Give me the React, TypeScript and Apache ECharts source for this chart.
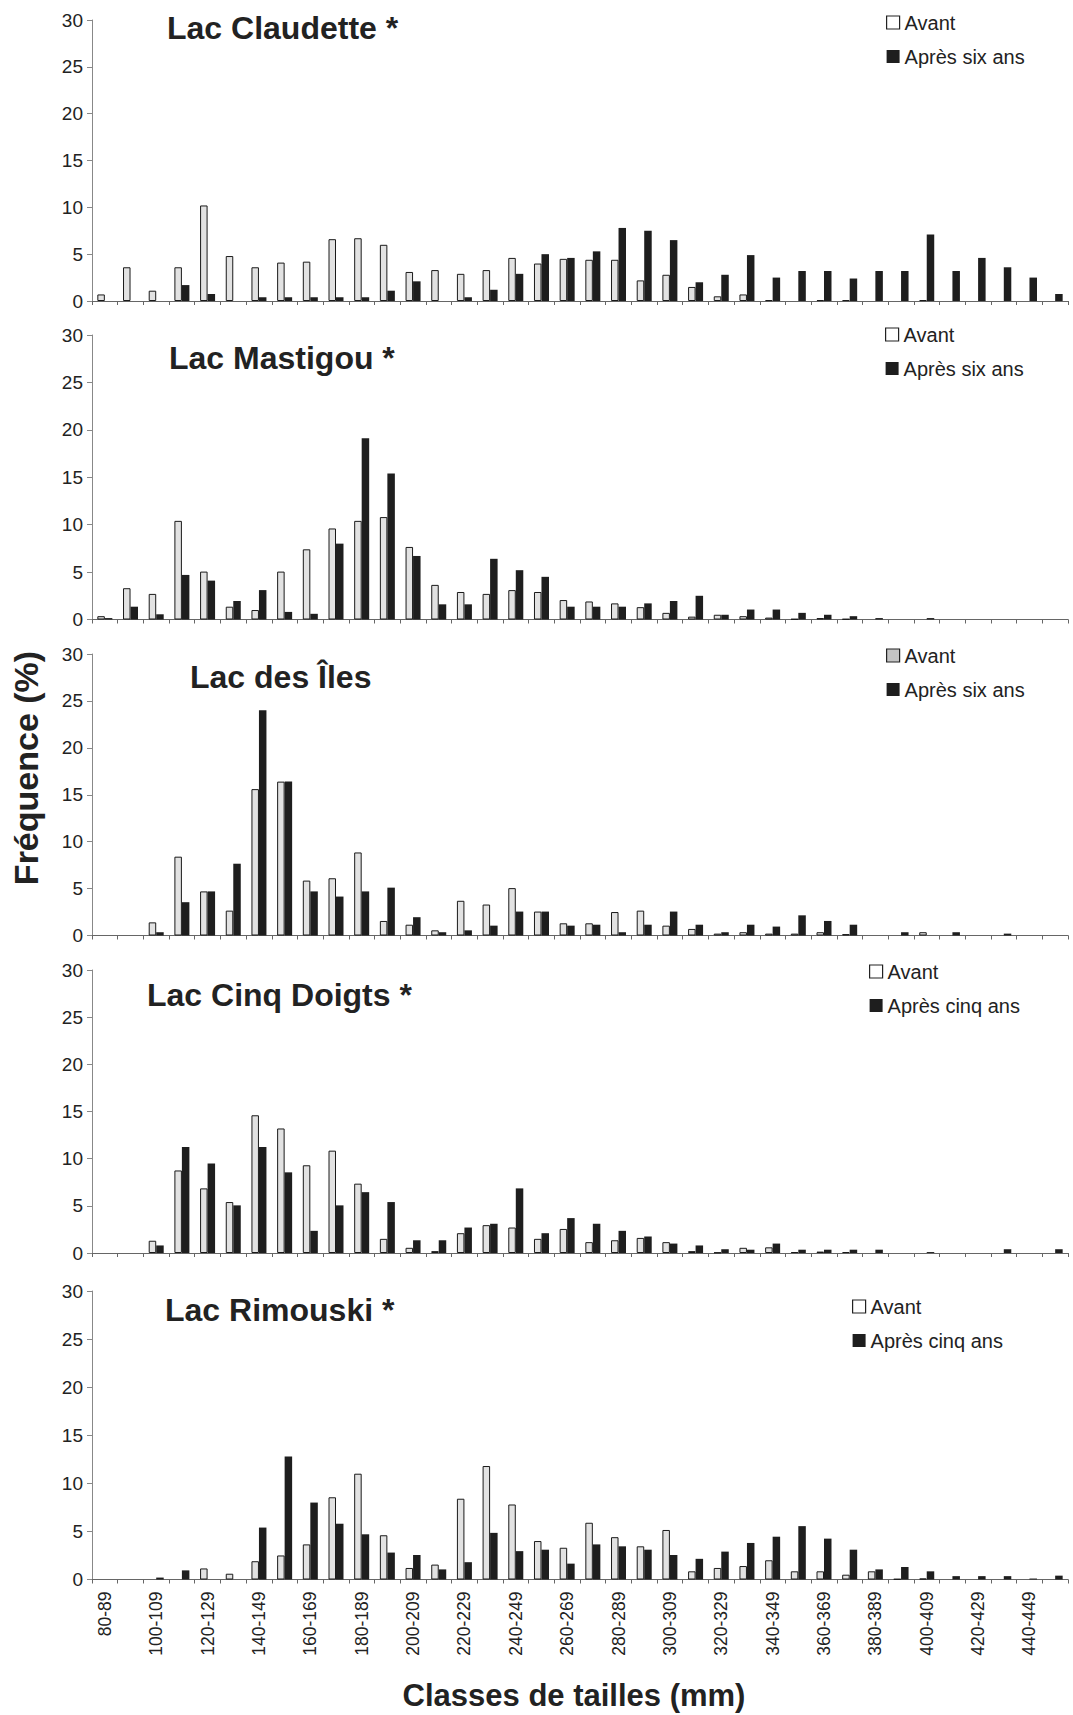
import React, { useEffect, useRef } from "react";
import * as echarts from "echarts";

const categories = [
  "80-89", "90-99", "100-109", "110-119", "120-129", "130-139", "140-149", "150-159",
  "160-169", "170-179", "180-189", "190-199", "200-209", "210-219", "220-229", "230-239",
  "240-249", "250-259", "260-269", "270-279", "280-289", "290-299", "300-309", "310-319",
  "320-329", "330-339", "340-349", "350-359", "360-369", "370-379", "380-389", "390-399",
  "400-409", "410-419", "420-429", "430-439", "440-449", "450-459",
];

const yTicks = [0, 5, 10, 15, 20, 25, 30];

const claudetteAvant = [0.7, 3.6, 1.1, 3.6, 10.2, 4.8, 3.6, 4.1, 4.2, 6.6, 6.7, 6.0, 3.1, 3.3, 2.9, 3.3, 4.6, 4.0, 4.5, 4.4, 4.4, 2.2, 2.8, 1.5, 0.5, 0.7, 0.1, 0, 0.1, 0.1, 0, 0, 0.1, 0, 0, 0, 0, 0];
const claudetteApres = [0, 0, 0, 1.7, 0.75, 0, 0.4, 0.4, 0.4, 0.4, 0.4, 1.1, 2.1, 0, 0.4, 1.2, 2.9, 5.0, 4.6, 5.3, 7.8, 7.5, 6.5, 2.0, 2.8, 4.9, 2.5, 3.2, 3.2, 2.4, 3.2, 3.2, 7.1, 3.2, 4.6, 3.6, 2.5, 0.75];

const mastigouAvant = [0.35, 3.3, 2.7, 10.4, 5.05, 1.35, 1.0, 5.05, 7.4, 9.6, 10.4, 10.8, 7.65, 3.65, 2.9, 2.7, 3.1, 2.9, 2.05, 1.9, 1.7, 1.3, 0.7, 0.3, 0.5, 0.35, 0.2, 0.05, 0.15, 0.05, 0, 0, 0, 0, 0, 0, 0, 0];
const mastigouApres = [0.15, 1.35, 0.55, 4.7, 4.1, 1.95, 3.1, 0.8, 0.6, 8.0, 19.1, 15.4, 6.7, 1.6, 1.6, 6.4, 5.2, 4.5, 1.35, 1.35, 1.35, 1.7, 1.95, 2.5, 0.5, 1.05, 1.05, 0.7, 0.5, 0.35, 0.15, 0, 0.15, 0, 0, 0, 0, 0];

const ilesAvant = [0, 0, 1.4, 8.4, 4.7, 2.65, 15.6, 16.4, 5.85, 6.1, 8.85, 1.55, 1.15, 0.55, 3.7, 3.3, 5.05, 2.55, 1.3, 1.3, 2.5, 2.65, 1.05, 0.7, 0.2, 0.35, 0.2, 0.2, 0.35, 0.15, 0, 0, 0.35, 0, 0, 0, 0, 0];
const ilesApres = [0, 0, 0.35, 3.55, 4.7, 7.65, 24.0, 16.4, 4.7, 4.15, 4.7, 5.1, 1.95, 0.35, 0.55, 1.05, 2.55, 2.55, 1.05, 1.15, 0.35, 1.15, 2.55, 1.15, 0.35, 1.15, 0.95, 2.15, 1.55, 1.15, 0, 0.35, 0, 0.35, 0, 0.2, 0, 0];

const cinqAvant = [0, 0, 1.3, 8.75, 6.85, 5.4, 14.6, 13.2, 9.3, 10.85, 7.35, 1.5, 0.55, 0.2, 2.1, 2.95, 2.7, 1.5, 2.55, 1.15, 1.35, 1.6, 1.15, 0.2, 0.05, 0.55, 0.6, 0.1, 0.15, 0.1, 0, 0, 0, 0, 0, 0, 0, 0];
const cinqApres = [0, 0, 0.8, 11.25, 9.5, 5.05, 11.25, 8.55, 2.35, 5.05, 6.45, 5.4, 1.35, 1.35, 2.7, 3.1, 6.85, 2.1, 3.7, 3.1, 2.35, 1.75, 1.0, 0.8, 0.4, 0.35, 1.0, 0.35, 0.35, 0.35, 0.35, 0, 0.1, 0, 0, 0.4, 0, 0.4];

const rimouskiAvant = [0, 0, 0, 0, 1.15, 0.6, 1.9, 2.5, 3.65, 8.55, 11.0, 4.6, 1.2, 1.55, 8.4, 11.8, 7.8, 4.0, 3.3, 5.9, 4.4, 3.45, 5.15, 0.85, 1.2, 1.4, 2.0, 0.85, 0.85, 0.5, 0.85, 0.05, 0.1, 0, 0, 0, 0, 0];
const rimouskiApres = [0, 0, 0.2, 0.95, 0, 0, 5.4, 12.8, 8.0, 5.8, 4.7, 2.8, 2.55, 1.05, 1.8, 4.85, 2.95, 3.1, 1.65, 3.65, 3.45, 3.1, 2.55, 2.15, 2.9, 3.8, 4.45, 5.55, 4.25, 3.1, 1.05, 1.3, 0.85, 0.35, 0.35, 0.35, 0.1, 0.4];

const panelTitles = ["Lac Claudette *", "Lac Mastigou *", "Lac des Îles", "Lac Cinq Doigts *", "Lac Rimouski *"];
const beforeLabel = "Avant";
const afterLabels = ["Après six ans", "Après six ans", "Après six ans", "Après cinq ans", "Après cinq ans"];
const yAxisTitle = "Fréquence (%)";
const xAxisTitle = "Classes de tailles (mm)";

const FONT = "'Liberation Sans', Arial, sans-serif";

export default function App() {
  const ref = useRef<HTMLDivElement>(null);

  useEffect(() => {
    if (!ref.current) return;
    const chart = echarts.init(ref.current, null, { renderer: "svg" });

    const befores = [claudetteAvant, mastigouAvant, ilesAvant, cinqAvant, rimouskiAvant];
    const afters = [claudetteApres, mastigouApres, ilesApres, cinqApres, rimouskiApres];
    const clean = (arr: number[]) => arr.map((v) => (v === 0 ? "-" : v));

    const grids = [
      { left: 92, top: 20, width: 976, height: 281 },
      { left: 92, top: 335, width: 976, height: 284.5 },
      { left: 92, top: 654, width: 976, height: 281.5 },
      { left: 92, top: 970, width: 976, height: 283 },
      { left: 92, top: 1291, width: 976, height: 288.5 },
    ];
    const titlePos = [
      [167, 27.5], [169, 357.5], [190, 677], [147, 995], [165, 1310],
    ];
    const legendPos = [
      [886, 12.5], [885, 324.5], [886, 645.5], [869, 961.5], [852, 1296.5],
    ];

    const xAxes = grids.map((_, i) => ({
      type: "category",
      gridIndex: i,
      data: categories,
      axisLine: { lineStyle: { color: "#666", width: 1 } },
      axisTick: { show: true, interval: 0, length: 4, lineStyle: { color: "#666" } },
      axisLabel: i === 4
        ? { show: true, rotate: 90, interval: 1, fontSize: 17.5, color: "#222", fontFamily: FONT, margin: 12 }
        : { show: false },
      splitLine: { show: false },
    }));

    const yAxes = grids.map((_, i) => ({
      type: "value",
      gridIndex: i,
      min: yTicks[0],
      max: yTicks[yTicks.length - 1],
      interval: 5,
      axisLine: { show: true, lineStyle: { color: "#888", width: 1 } },
      axisTick: { show: true, length: 5, lineStyle: { color: "#888" } },
      axisLabel: { fontSize: 19, color: "#222", fontFamily: FONT, margin: 9 },
      splitLine: { show: false },
    }));

    const series: any[] = [];
    grids.forEach((_, i) => {
      series.push({
        type: "bar",
        name: beforeLabel,
        xAxisIndex: i,
        yAxisIndex: i,
        data: clean(befores[i]),
        barWidth: 7.5,
        barGap: "0%",
        itemStyle: { color: "#e2e2e2", borderColor: "#1a1a1a", borderWidth: 1 },
      });
      series.push({
        type: "bar",
        name: afterLabels[i],
        xAxisIndex: i,
        yAxisIndex: i,
        data: clean(afters[i]),
        barWidth: 7.5,
        barGap: "0%",
        itemStyle: { color: "#1e1e1e" },
      });
    });

    const legends = grids.map((_, i) => ({
      orient: "vertical",
      left: legendPos[i][0],
      top: legendPos[i][1],
      padding: 0,
      itemWidth: 13,
      itemHeight: 13,
      itemGap: 14,
      selectedMode: false,
      textStyle: { fontSize: 20, color: "#222", fontFamily: FONT },
      data: [
        {
          name: beforeLabel,
          icon: "rect",
          itemStyle: { color: i === 2 ? "#c4c4c4" : "#ffffff", borderColor: "#222", borderWidth: 1.2 },
        },
        { name: afterLabels[i], icon: "rect", itemStyle: { color: "#1e1e1e" } },
      ],
    }));

    const graphics: any[] = panelTitles.map((t, i) => ({
      type: "text",
      x: titlePos[i][0],
      y: titlePos[i][1],
      style: {
        text: t,
        font: `bold 32px ${FONT}`,
        fill: "#222",
        textAlign: "left",
        textVerticalAlign: "middle",
      },
    }));
    graphics.push({
      type: "text",
      x: 26,
      y: 768,
      rotation: Math.PI / 2,
      style: {
        text: yAxisTitle,
        font: `bold 34px ${FONT}`,
        fill: "#222",
        textAlign: "center",
        textVerticalAlign: "middle",
      },
    });
    graphics.push({
      type: "text",
      x: 574,
      y: 1695,
      style: {
        text: xAxisTitle,
        font: `bold 31px ${FONT}`,
        fill: "#222",
        textAlign: "center",
        textVerticalAlign: "middle",
      },
    });

    chart.setOption({
      animation: false,
      backgroundColor: "#ffffff",
      grid: grids,
      xAxis: xAxes,
      yAxis: yAxes,
      legend: legends,
      series,
      graphic: graphics,
    });

    return () => chart.dispose();
  }, []);

  return (
    <div
      ref={ref}
      style={{ position: "absolute", left: 0, top: 0, width: 1073, height: 1715, background: "#fff" }}
    />
  );
}
